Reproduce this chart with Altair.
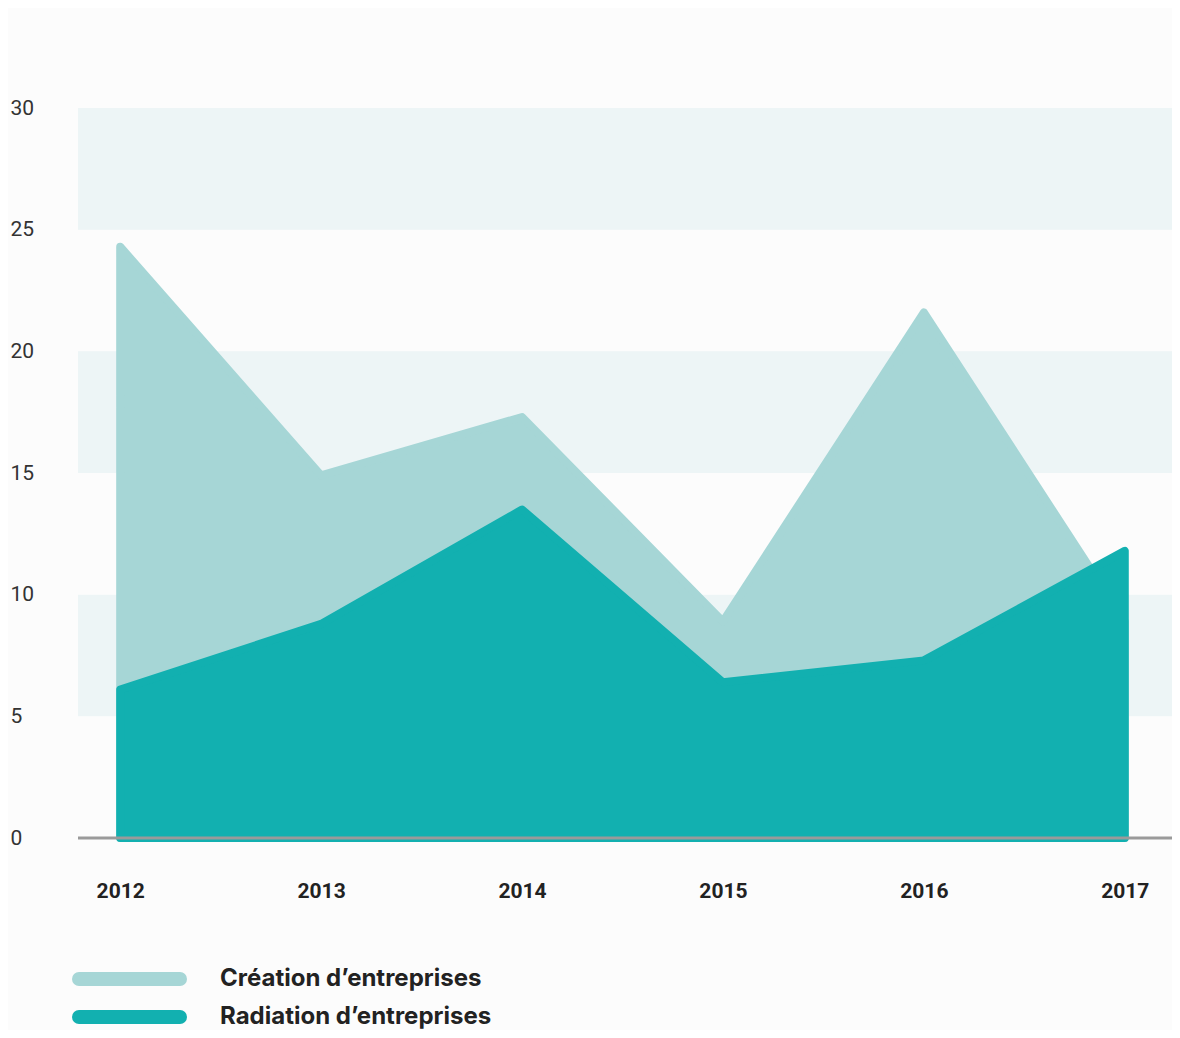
import altair as alt
import pandas as pd

# ---- data ----
years = [2012, 2013, 2014, 2015, 2016, 2017]
creation = [24.3, 14.9, 17.3, 8.9, 21.6, 8.9]
radiation = [6.1, 8.8, 13.5, 6.4, 7.3, 11.8]
series_names = ["Création d’entreprises", "Radiation d’entreprises"]
series_colors = ["#a6d6d6", "#12b0b0"]
band_lo = [5, 15, 25]
band_hi = [10, 20, 30]
y_ticks = [0, 5, 10, 15, 20, 25, 30]

W, H = 1094, 730

df_c = pd.DataFrame({"year": years, "value": creation})
df_r = pd.DataFrame({"year": years, "value": radiation})
df_b = pd.DataFrame({"lo": band_lo, "hi": band_hi})
df_zero = pd.DataFrame({"v": [0]})

xscale = alt.Scale(domain=[2011.79, 2017.235], nice=False, zero=False)
yscale = alt.Scale(domain=[0, 30], nice=False)

x_axis = alt.Axis(values=years, format="d", title=None, grid=False, ticks=False,
                  domain=False, labelFont="Roboto", labelFontWeight="bold",
                  labelFontSize=21, labelColor="#222222", labelPadding=53,
                  labelBaseline="middle", labelFlush=False, labelOverlap=False)
y_axis = alt.Axis(values=y_ticks, title=None, grid=False, ticks=False, domain=False,
                  labelFont="Roboto", labelFontSize=21, labelColor="#333333",
                  labelAlign="left", labelPadding=68, labelBaseline="middle")

bands = alt.Chart(df_b).mark_rect(color="#edf5f6").encode(
    x=alt.value(0), x2=alt.value(W),
    y=alt.Y("lo:Q", scale=yscale, axis=y_axis), y2="hi:Q")

area_c = alt.Chart(df_c).mark_area(
    color=series_colors[0], stroke=series_colors[0], strokeWidth=8,
    strokeJoin="round").encode(
    x=alt.X("year:Q", scale=xscale, axis=x_axis),
    y=alt.Y("value:Q", scale=yscale))

area_r = alt.Chart(df_r).mark_area(
    color=series_colors[1], stroke=series_colors[1], strokeWidth=8,
    strokeJoin="round").encode(
    x=alt.X("year:Q", scale=xscale),
    y=alt.Y("value:Q", scale=yscale))

base_rule = alt.Chart(df_zero).mark_rule(color="#9a9a9a", strokeWidth=3).encode(
    x=alt.value(0), x2=alt.value(W), y=alt.Y("v:Q", scale=yscale))

legend_layers = []
leg_y = [871, 909]
for name, col, ly in zip(series_names, series_colors, leg_y):
    d = pd.DataFrame({"name": [name]})
    legend_layers.append(alt.Chart(d).mark_rule(color=col, strokeWidth=14, strokeCap="round").encode(
        x=alt.value(1), x2=alt.value(102), y=alt.value(ly)))
    legend_layers.append(alt.Chart(d).mark_text(
        align="left", baseline="middle", font="Inter", fontWeight="bold",
        fontSize=24, color="#222222").encode(
        x=alt.value(142), y=alt.value(ly), text="name:N"))

chart = alt.layer(bands, area_c, area_r, base_rule, *legend_layers).properties(
    width=W, height=H,
    padding={"left": 70, "top": 100, "right": 0, "bottom": 192},
    autosize=alt.AutoSizeParams(type="none"),
    background="#fcfcfc",
).configure_view(stroke=None)

chart.save("out.html", embed_options={"renderer": "svg", "actions": False})
